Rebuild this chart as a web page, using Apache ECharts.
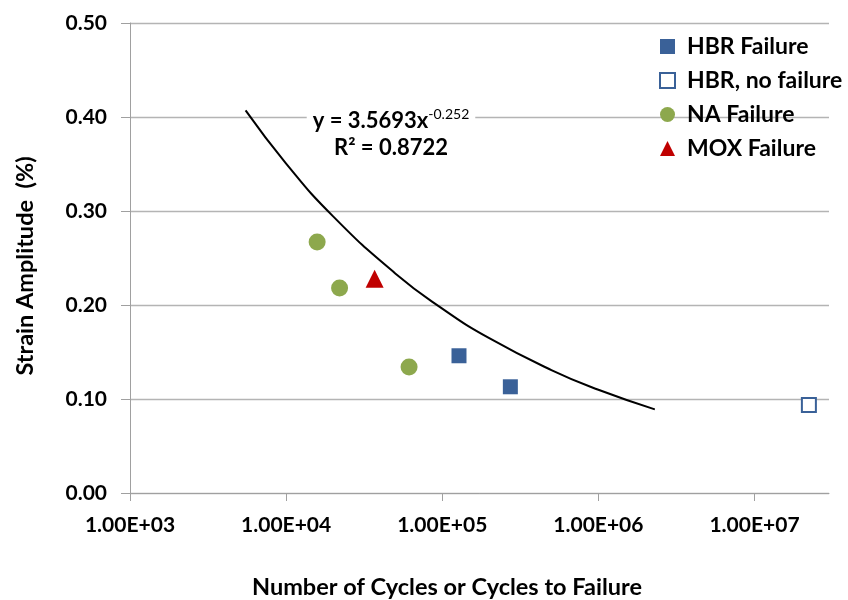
<!DOCTYPE html>
<html>
<head>
<meta charset="utf-8">
<script src="https://cdn.jsdelivr.net/npm/echarts@6/dist/echarts.min.js"></script>
<style>
  html, body { margin: 0; padding: 0; background: #ffffff; }
  #chart { width: 848px; height: 600px; }
</style>
</head>
<body>
<div id="chart"></div>
<script>
// ---- Data ----
const hbrFailure = [[1.28e5, 0.146], [2.73e5, 0.113]];
const hbrNoFailure = [[2.23e7, 0.0936]];
const naFailure = [[1.58e4, 0.267], [2.20e4, 0.218], [6.13e4, 0.134]];
const moxFailure = [[3.69e4, 0.228]];
// power trend line (y = 3.5693x^-0.252)
const trendX = [5.5e3, 1e4, 2e4, 5e4, 1e5, 2e5, 5e5, 1e6, 2.3e6];
const trendY = [0.407, 0.3505, 0.2943, 0.2336, 0.1962, 0.1647, 0.1308, 0.1098, 0.0890];

const seriesNames = ['HBR Failure', 'HBR, no failure', 'NA Failure', 'MOX Failure'];
const xTitle = 'Number of Cycles or Cycles to Failure';
const yTitle = 'Strain Amplitude  (%)';
const eqMain = 'y = 3.5693x';
const eqExp = '-0.252';
const eqR2 = 'R² = 0.8722';

const FONT = 'Lato';
const FS = 21;
const BLUE = '#3A6198';
const GREEN = '#8DA84D';
const RED = '#C00000';

function fmtExp(v) {
  const s = v.toExponential(2).toUpperCase(); // e.g. 1.00E+4
  const m = s.match(/^(.*)E([+-])(\d+)$/);
  if (!m) return s;
  return m[1] + 'E' + m[2] + (m[3].length < 2 ? '0' + m[3] : m[3]);
}

const chart = echarts.init(document.getElementById('chart'), null, { renderer: 'canvas' });

const option = {
  backgroundColor: '#ffffff',
  animation: false,
  grid: { left: 130, right: 19, top: 23, bottom: 107, containLabel: false },
  xAxis: {
    type: 'log',
    logBase: 10,
    min: 1000,
    max: 3e7,
    interval: 1,
    axisLine: { show: true, lineStyle: { color: '#A0A0A0', width: 1 } },
    axisTick: { show: true, length: 8, inside: false, lineStyle: { color: '#A0A0A0' } },
    splitLine: { show: false },
    minorTick: { show: false },
    axisLabel: {
      margin: 22,
      color: '#000',
      fontFamily: FONT,
      fontWeight: 'bold',
      fontSize: FS,
      showMaxLabel: false,
      formatter: function (v) {
        const e = Math.log10(v);
        if (Math.abs(e - Math.round(e)) > 1e-6) return '';
        return fmtExp(v);
      }
    }
  },
  yAxis: {
    type: 'value',
    min: 0,
    max: 0.5,
    interval: 0.1,
    axisLine: { show: true, lineStyle: { color: '#A0A0A0', width: 1 } },
    axisTick: { show: true, length: 9, inside: false, lineStyle: { color: '#A0A0A0' } },
    splitLine: { show: true, lineStyle: { color: '#B4B4B4', width: 1.3 } },
    axisLabel: {
      margin: 23,
      color: '#000',
      fontFamily: FONT,
      fontWeight: 'bold',
      fontSize: FS,
      formatter: function (v) { return v.toFixed(2); }
    }
  },
  legend: {
    show: true,
    orient: 'vertical',
    left: 654,
    top: 30,
    itemWidth: 15,
    itemHeight: 15,
    itemGap: 11,
    data: seriesNames,
    textStyle: {
      fontFamily: FONT,
      fontWeight: 'bold',
      fontSize: 23,
      color: '#000',
      padding: [0, 0, 0, 7],
      lineHeight: 23
    }
  },
  graphic: [
    {
      type: 'text',
      style: {
        text: xTitle,
        x: 447,
        y: 587,
        align: 'center',
        verticalAlign: 'middle',
        fontFamily: FONT,
        fontWeight: 'bold',
        fontSize: 23.5,
        fill: '#000'
      }
    },
    {
      type: 'text',
      x: 25,
      y: 266,
      rotation: Math.PI / 2,
      style: {
        text: yTitle,
        x: 0,
        y: 0,
        align: 'center',
        verticalAlign: 'middle',
        fontFamily: FONT,
        fontWeight: 'bold',
        fontSize: 23.5,
        fill: '#000'
      }
    },
    {
      type: 'text',
      x: 391,
      y: 134,
      z: 100,
      style: {
        text: '{m|' + eqMain + '}{s|' + eqExp + '}\n{m|' + eqR2 + '}',
        align: 'center',
        verticalAlign: 'middle',
        backgroundColor: '#ffffff',
        padding: [0, 6, 0, 6],
        rich: {
          m: { fontFamily: FONT, fontWeight: 'bold', fontSize: 22, fill: '#000', lineHeight: 27 },
          s: { fontFamily: FONT, fontWeight: 'normal', fontSize: 14, fill: '#000', verticalAlign: 'top', lineHeight: 27, padding: [0, 0, 10, 0] }
        }
      }
    }
  ],
  series: [
    {
      name: 'Trend',
      type: 'line',
      smooth: true,
      showSymbol: false,
      symbol: 'none',
      data: trendX.map((x, i) => [x, trendY[i]]),
      lineStyle: { color: '#000', width: 2 },
      z: 1,
      silent: true
    },
    {
      name: seriesNames[0],
      type: 'scatter',
      symbol: 'rect',
      symbolSize: 15,
      data: hbrFailure,
      itemStyle: { color: BLUE, opacity: 1 },
      z: 3
    },
    {
      name: seriesNames[1],
      type: 'scatter',
      symbol: 'rect',
      symbolSize: 14,
      data: hbrNoFailure,
      itemStyle: { color: '#ffffff', borderColor: BLUE, borderWidth: 2, opacity: 1 },
      z: 3
    },
    {
      name: seriesNames[2],
      type: 'scatter',
      symbol: 'circle',
      symbolSize: 17,
      data: naFailure,
      itemStyle: { color: GREEN, opacity: 1 },
      z: 3
    },
    {
      name: seriesNames[3],
      type: 'scatter',
      symbol: 'triangle',
      symbolSize: 18,
      data: moxFailure,
      itemStyle: { color: RED, opacity: 1 },
      z: 3
    }
  ]
};

chart.setOption(option);
</script>
</body>
</html>
